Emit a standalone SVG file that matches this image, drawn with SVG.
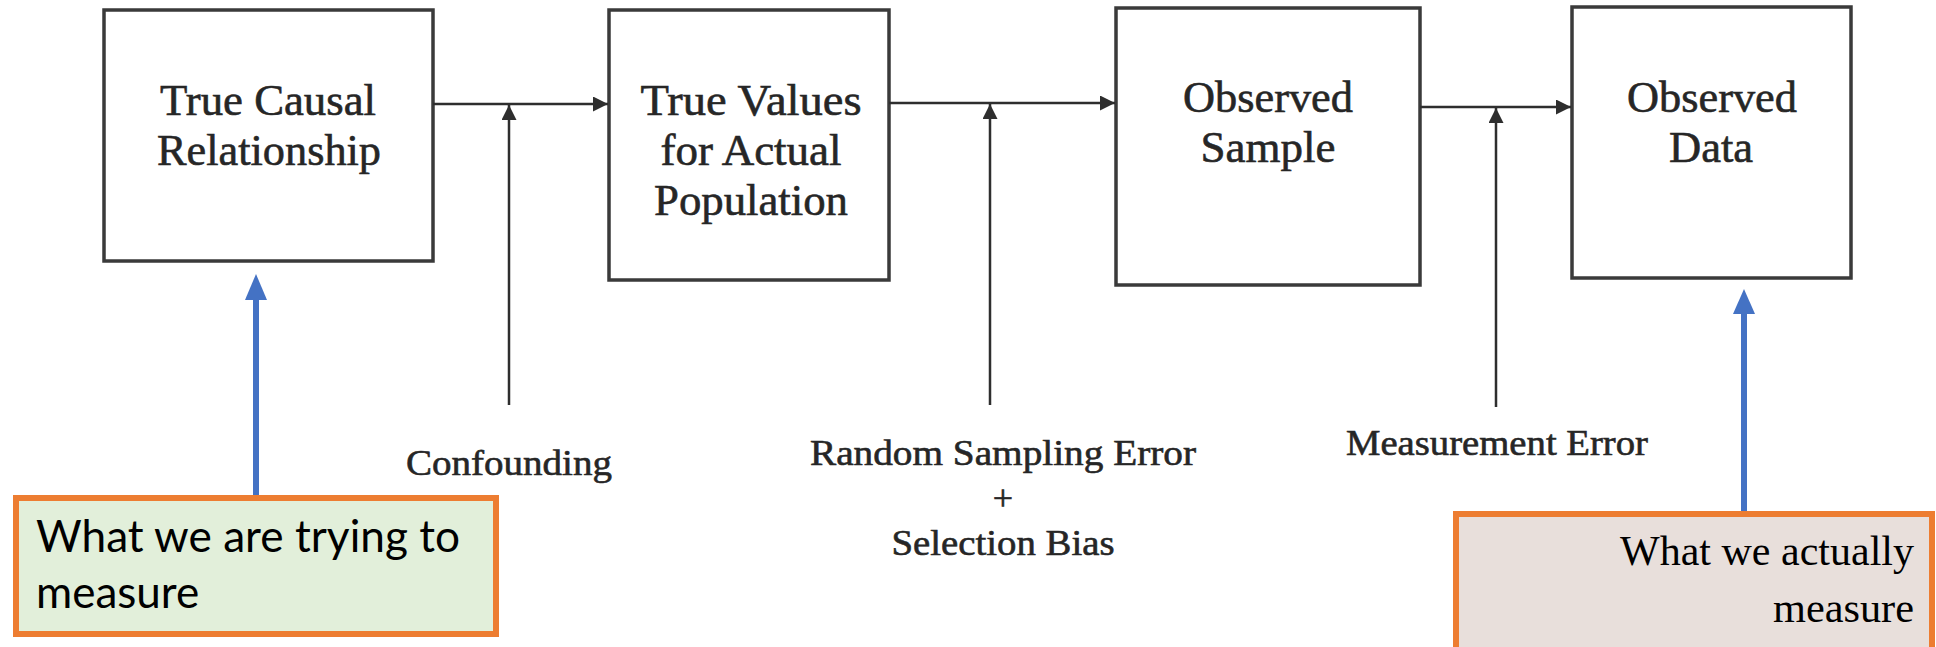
<svg xmlns="http://www.w3.org/2000/svg" width="1936" height="647" viewBox="0 0 1936 647">
  <style>
    .box { fill: #ffffff; stroke: #3a3a3a; stroke-width: 3.5; }
    .lbl { font-family: "Liberation Serif", "Times New Roman", serif; fill: #262626; stroke: #262626; stroke-width: 0.6; }
    .big { font-size: 45px; text-anchor: middle; }
    .small { font-size: 36px; text-anchor: middle; }
    .wire { stroke: #2e2e2e; stroke-width: 2.5; fill: none; }
    .pointer { stroke: #4472C4; stroke-width: 6; fill: none; }
    .note { stroke: #ED7D31; stroke-width: 6; }
  </style>
  <defs>
    <marker id="tip" viewBox="0 0 10 10" refX="10" refY="5" markerWidth="6" markerHeight="6" markerUnits="strokeWidth" orient="auto">
      <path d="M0,0 L10,5 L0,10 z" fill="#2e2e2e"/>
    </marker>
  </defs>

  <rect width="1936" height="647" fill="#ffffff"/>

  <!-- process chain -->
  <g id="node-causal">
    <rect class="box" x="104" y="10" width="329" height="251"/>
    <text class="lbl big" x="268" y="115" textLength="216" lengthAdjust="spacingAndGlyphs">True Causal</text>
    <text class="lbl big" x="269" y="165" textLength="224" lengthAdjust="spacingAndGlyphs">Relationship</text>
  </g>
  <g id="node-population">
    <rect class="box" x="609" y="10" width="280" height="270"/>
    <text class="lbl big" x="751" y="115" textLength="221" lengthAdjust="spacingAndGlyphs">True Values</text>
    <text class="lbl big" x="751" y="165">for Actual</text>
    <text class="lbl big" x="751" y="215" textLength="194" lengthAdjust="spacingAndGlyphs">Population</text>
  </g>
  <g id="node-sample">
    <rect class="box" x="1116" y="8" width="304" height="277"/>
    <text class="lbl big" x="1268" y="112" textLength="170" lengthAdjust="spacingAndGlyphs">Observed</text>
    <text class="lbl big" x="1268" y="162">Sample</text>
  </g>
  <g id="node-data">
    <rect class="box" x="1572" y="7" width="279" height="271"/>
    <text class="lbl big" x="1712" y="112" textLength="170" lengthAdjust="spacingAndGlyphs">Observed</text>
    <text class="lbl big" x="1711" y="162" textLength="84" lengthAdjust="spacingAndGlyphs">Data</text>
  </g>

  <!-- error sources -->
  <g id="src-confounding">
    <text class="lbl small" x="509" y="475" textLength="206" lengthAdjust="spacingAndGlyphs">Confounding</text>
  </g>
  <g id="src-sampling">
    <text class="lbl small" x="1003" y="465" textLength="386" lengthAdjust="spacingAndGlyphs">Random Sampling Error</text>
    <text class="lbl small" x="1003" y="510">+</text>
    <text class="lbl small" x="1003" y="555" textLength="223" lengthAdjust="spacingAndGlyphs">Selection Bias</text>
  </g>
  <g id="src-measurement">
    <text class="lbl small" x="1497" y="455" textLength="302" lengthAdjust="spacingAndGlyphs">Measurement Error</text>
  </g>

  <g id="connectors">
    <line class="wire" x1="433" y1="104" x2="608" y2="104" marker-end="url(#tip)"/>
    <line class="wire" x1="509" y1="405" x2="509" y2="105" marker-end="url(#tip)"/>
    <line class="wire" x1="889" y1="103" x2="1115" y2="103" marker-end="url(#tip)"/>
    <line class="wire" x1="990" y1="405" x2="990" y2="104" marker-end="url(#tip)"/>
    <line class="wire" x1="1420" y1="107" x2="1571" y2="107" marker-end="url(#tip)"/>
    <line class="wire" x1="1496" y1="407" x2="1496" y2="108" marker-end="url(#tip)"/>

    <!-- callout pointers -->
    <line class="pointer" x1="256" y1="497" x2="256" y2="296"/>
    <path d="M256,274 L267,300 L245,300 z" fill="#4472C4"/>
    <line class="pointer" x1="1744" y1="511" x2="1744" y2="310"/>
    <path d="M1744,289 L1755,314 L1733,314 z" fill="#4472C4"/>
  </g>

  <!-- callouts -->
  <g id="note-target">
    <rect class="note" x="16" y="498" width="480" height="136" fill="#E2EFDA"/>
    <text x="36" y="552" font-family="Lato, 'Open Sans', sans-serif" font-size="44" fill="#000" textLength="424" lengthAdjust="spacingAndGlyphs">What we are trying to</text>
    <text x="36" y="608" font-family="Lato, 'Open Sans', sans-serif" font-size="44" fill="#000">measure</text>
  </g>
  <g id="note-actual">
    <rect class="note" x="1456" y="514" width="476" height="150" fill="#E8DFDB"/>
    <text x="1914" y="565" text-anchor="end" font-family="'Liberation Serif', serif" font-size="42" fill="#000" textLength="294" lengthAdjust="spacingAndGlyphs">What we actually</text>
    <text x="1914" y="622" text-anchor="end" font-family="'Liberation Serif', serif" font-size="42" fill="#000" textLength="141" lengthAdjust="spacingAndGlyphs">measure</text>
  </g>
</svg>
